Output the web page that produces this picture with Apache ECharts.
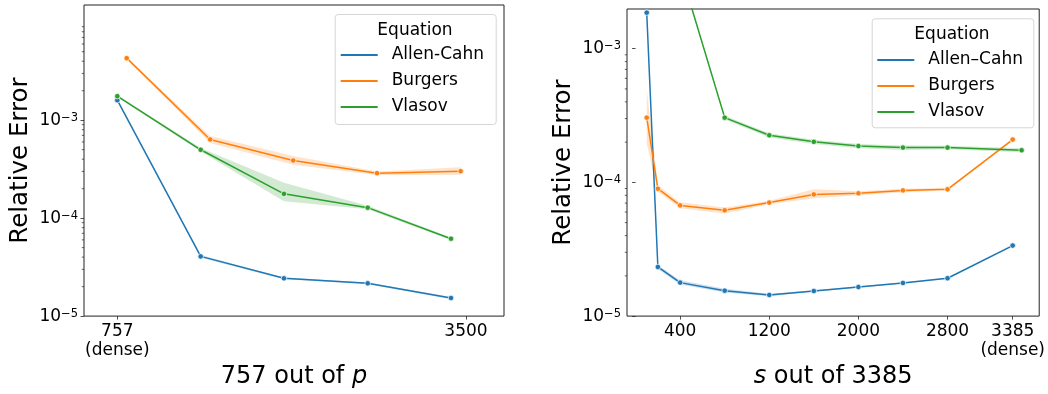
<!DOCTYPE html>
<html>
<head>
<meta charset="utf-8">
<script src="https://cdn.jsdelivr.net/npm/echarts@6/dist/echarts.min.js"></script>
<style>
  html, body { margin: 0; padding: 0; background: #fff; }
  #chart { width: 1048px; height: 394px; }
</style>
</head>
<body>
<div id="chart"></div>
<script>
// ---- left panel: "757 out of p" ----
const leftXAC = [757, 1413, 2068, 2727, 3382];
const leftXBu = [831, 1487, 2141, 2800, 3458];
const leftXVl = [757, 1413, 2068, 2727, 3382];
const leftAC = [1.6e-3, 4.07e-5, 2.43e-5, 2.16e-5, 1.53e-5];
const leftAClo = [1.56e-3, 3.95e-5, 2.38e-5, 2.12e-5, 1.49e-5];
const leftAChi = [1.64e-3, 4.2e-5, 2.48e-5, 2.2e-5, 1.57e-5];
const leftBu = [4.3e-3, 6.36e-4, 3.88e-4, 2.88e-4, 3.02e-4];
const leftBulo = [4.2e-3, 5.85e-4, 3.5e-4, 2.76e-4, 2.78e-4];
const leftBuhi = [4.4e-3, 6.9e-4, 4.3e-4, 3.0e-4, 3.3e-4];
const leftVl = [1.76e-3, 4.99e-4, 1.77e-4, 1.28e-4, 6.17e-5];
const leftVllo = [1.72e-3, 4.8e-4, 1.49e-4, 1.23e-4, 6.0e-5];
const leftVlhi = [1.8e-3, 5.2e-4, 2.3e-4, 1.34e-4, 6.35e-5];
const leftXTicks = [757, 3500];
const leftXLabels = ['757\n(dense)', '3500'];

// ---- right panel: "s out of 3385" ----
const rightX = [100, 200, 400, 800, 1200, 1600, 2000, 2400, 2800, 3385];
const rightXVl = [400, 800, 1200, 1600, 2000, 2400, 2800, 3465];
const rightAC = [1.86e-3, 2.33e-5, 1.78e-5, 1.55e-5, 1.44e-5, 1.54e-5, 1.65e-5, 1.77e-5, 1.92e-5, 3.37e-5];
const rightAClo = [1.8e-3, 2.25e-5, 1.72e-5, 1.5e-5, 1.41e-5, 1.52e-5, 1.63e-5, 1.75e-5, 1.9e-5, 3.33e-5];
const rightAChi = [1.9e-3, 2.4e-5, 1.85e-5, 1.6e-5, 1.47e-5, 1.56e-5, 1.67e-5, 1.79e-5, 1.94e-5, 3.41e-5];
const rightBu = [3.05e-4, 8.97e-5, 6.73e-5, 6.18e-5, 7.06e-5, 8.13e-5, 8.28e-5, 8.71e-5, 8.87e-5, 2.09e-4];
const rightBulo = [1.95e-4, 8.5e-5, 6.4e-5, 5.85e-5, 6.85e-5, 7.6e-5, 8.0e-5, 8.45e-5, 8.7e-5, 2.05e-4];
const rightBuhi = [4.97e-4, 9.5e-5, 7.1e-5, 6.5e-5, 7.3e-5, 8.9e-5, 8.6e-5, 8.95e-5, 9.05e-5, 2.13e-4];
const rightVl = [3.9e-3, 3.05e-4, 2.25e-4, 2.01e-4, 1.87e-4, 1.82e-4, 1.82e-4, 1.74e-4];
const rightVllo = [3.8e-3, 2.95e-4, 2.17e-4, 1.94e-4, 1.8e-4, 1.75e-4, 1.77e-4, 1.68e-4];
const rightVlhi = [4.0e-3, 3.15e-4, 2.33e-4, 2.08e-4, 1.94e-4, 1.89e-4, 1.88e-4, 1.8e-4];
const rightXTicks = [400, 1200, 2000, 2800, 3385];
const rightXLabels = ['400', '1200', '2000', '2800', '3385\n(dense)'];

const yMajor = [1e-5, 1e-4, 1e-3];

const FONT = 'DejaVu Sans';
const C = { ac: '#1f77b4', bu: '#ff7f0e', vl: '#2ca02c' };
const axes = [
    { xMin: 495, xMax: 3799, yMax: 0.015 },
    { xMin: -77, xMax: 3623, yMax: 0.00198 }
];

const chart = echarts.init(document.getElementById('chart'));

function zip(xs, ys) { return xs.map((x, i) => [x, ys[i]]); }

function minorTicks(yMax) {
    const out = [];
    [1e-5, 1e-4, 1e-3].forEach(d => {
        for (let k = 2; k <= 9; k++) if (k * d < yMax) out.push(k * d);
    });
    return out;
}

function lineSeries(name, idx, xs, ys, color) {
    return {
        name, type: 'line', xAxisIndex: idx, yAxisIndex: idx,
        data: zip(xs, ys), symbol: 'circle', symbolSize: 5.5,
        itemStyle: { color, borderColor: '#fff', borderWidth: 0.7 },
        lineStyle: { color, width: 1.5 }, z: 4, clip: true, animation: false
    };
}

function bandSeries(idx, xs, lo, hi, color) {
    return {
        type: 'custom', xAxisIndex: idx, yAxisIndex: idx, silent: true, clip: true, z: 2,
        data: xs.map((x, i) => [x, lo[i], hi[i]]),
        renderItem: (params, api) => {
            if (params.dataIndex !== 0) return null;
            const up = xs.map((x, i) => api.coord([x, hi[i]]));
            const dn = xs.map((x, i) => api.coord([x, lo[i]])).reverse();
            return { type: 'polygon', shape: { points: up.concat(dn) }, style: { fill: color, opacity: 0.22 } };
        }
    };
}

function minorSeries(idx) {
    const a = axes[idx];
    return {
        type: 'custom', xAxisIndex: idx, yAxisIndex: idx, silent: true, clip: false, z: 5,
        data: minorTicks(a.yMax).map(v => [a.xMin, v]),
        renderItem: (params, api) => {
            const p = api.coord([api.value(0), api.value(1)]);
            return { type: 'line', shape: { x1: p[0] - 2.2, y1: p[1], x2: p[0], y2: p[1] }, style: { stroke: '#222', lineWidth: 0.7 } };
        }
    };
}

function xAxisOpt(idx, ticks, labels, nameRich) {
    const a = axes[idx];
    return {
        type: 'value', gridIndex: idx, min: a.xMin, max: a.xMax,
        splitLine: { show: false }, axisLine: { show: false },
        axisTick: { customValues: ticks, length: 3.5, lineStyle: { color: '#222', width: 0.8 } },
        axisLabel: {
            customValues: ticks, margin: 6, color: '#000', fontFamily: FONT, fontSize: 17, lineHeight: 19,
            formatter: v => labels[ticks.indexOf(v)]
        },
        name: nameRich, nameLocation: 'middle', nameGap: 46,
        nameTextStyle: {
            color: '#000', fontFamily: FONT, fontSize: 24,
            rich: { i: { fontFamily: FONT, fontSize: 24, fontStyle: 'italic', color: '#000' } }
        }
    };
}

function yAxisOpt(idx) {
    const a = axes[idx];
    return {
        type: 'log', logBase: 10, gridIndex: idx, min: 1e-5, max: a.yMax,
        splitLine: { show: false }, axisLine: { show: false },
        axisTick: { customValues: yMajor, length: 3.5, lineStyle: { color: '#222', width: 0.8 } },
        axisLabel: {
            customValues: yMajor, margin: 6, color: '#000',
            formatter: v => '{b|10}{s|\u2212' + Math.round(-Math.log10(v)) + '}',
            rich: {
                b: { fontFamily: FONT, fontSize: 17, lineHeight: 17, color: '#000' },
                s: { fontFamily: FONT, fontSize: 11.5, lineHeight: 11, verticalAlign: 'top', color: '#000' }
            }
        },
        name: 'Relative Error', nameLocation: 'middle', nameGap: 51,
        nameTextStyle: { color: '#000', fontFamily: FONT, fontSize: 24.5 }
    };
}

function legendOpt(names, left, top) {
    return {
        data: names, orient: 'vertical', left, top, padding: 0, z: 12,
        icon: 'rect', itemWidth: 37, itemHeight: 2, itemGap: 6,
        selectedMode: false,
        itemStyle: { borderWidth: 0, borderColor: 'transparent' },
        textStyle: { fontFamily: FONT, fontSize: 17, lineHeight: 20, color: '#000', padding: [0, 0, 0, 9] }
    };
}

function legendBox(x, y, w, h, cx, ty) {
    return [
        { type: 'rect', left: x, top: y, z: 10, shape: { width: w, height: h, r: 3 },
          style: { fill: 'rgba(255,255,255,0.8)', stroke: '#d6d6d6', lineWidth: 1 } },
        { type: 'text', x: cx, y: ty, z: 11,
          style: { text: 'Equation', fontFamily: FONT, fontSize: 17, fill: '#000', align: 'center', verticalAlign: 'middle' } }
    ];
}

const option = {
    backgroundColor: '#fff',
    animation: false,
    grid: [
        { left: 84, right: 544, top: 5, bottom: 77, show: true, borderColor: '#222', borderWidth: 1, backgroundColor: 'transparent' },
        { left: 627, right: 7, top: 9, bottom: 76, show: true, borderColor: '#222', borderWidth: 1, backgroundColor: 'transparent' }
    ],
    xAxis: [
        xAxisOpt(0, leftXTicks, leftXLabels, '757 out of {i|p}'),
        xAxisOpt(1, rightXTicks, rightXLabels, '{i|s} out of 3385')
    ],
    yAxis: [yAxisOpt(0), yAxisOpt(1)],
    legend: [
        legendOpt(['Allen-Cahn', 'Burgers', 'Vlasov'], 340.7, 45),
        legendOpt(['Allen\u2013Cahn', 'Burgers', 'Vlasov'], 877.3, 50)
    ],
    graphic: legendBox(334.7, 14, 161, 110, 415, 30.7).concat(legendBox(871.7, 18.3, 161.6, 109, 952, 35)),
    series: [
        bandSeries(0, leftXAC, leftAClo, leftAChi, C.ac),
        bandSeries(0, leftXBu, leftBulo, leftBuhi, C.bu),
        bandSeries(0, leftXVl, leftVllo, leftVlhi, C.vl),
        lineSeries('Allen-Cahn', 0, leftXAC, leftAC, C.ac),
        lineSeries('Burgers', 0, leftXBu, leftBu, C.bu),
        lineSeries('Vlasov', 0, leftXVl, leftVl, C.vl),
        bandSeries(1, rightX, rightAClo, rightAChi, C.ac),
        bandSeries(1, rightX, rightBulo, rightBuhi, C.bu),
        bandSeries(1, rightXVl, rightVllo, rightVlhi, C.vl),
        lineSeries('Allen\u2013Cahn', 1, rightX, rightAC, C.ac),
        lineSeries('Burgers', 1, rightX, rightBu, C.bu),
        lineSeries('Vlasov', 1, rightXVl, rightVl, C.vl),
        minorSeries(0),
        minorSeries(1)
    ]
};

chart.setOption(option);
</script>
</body>
</html>
